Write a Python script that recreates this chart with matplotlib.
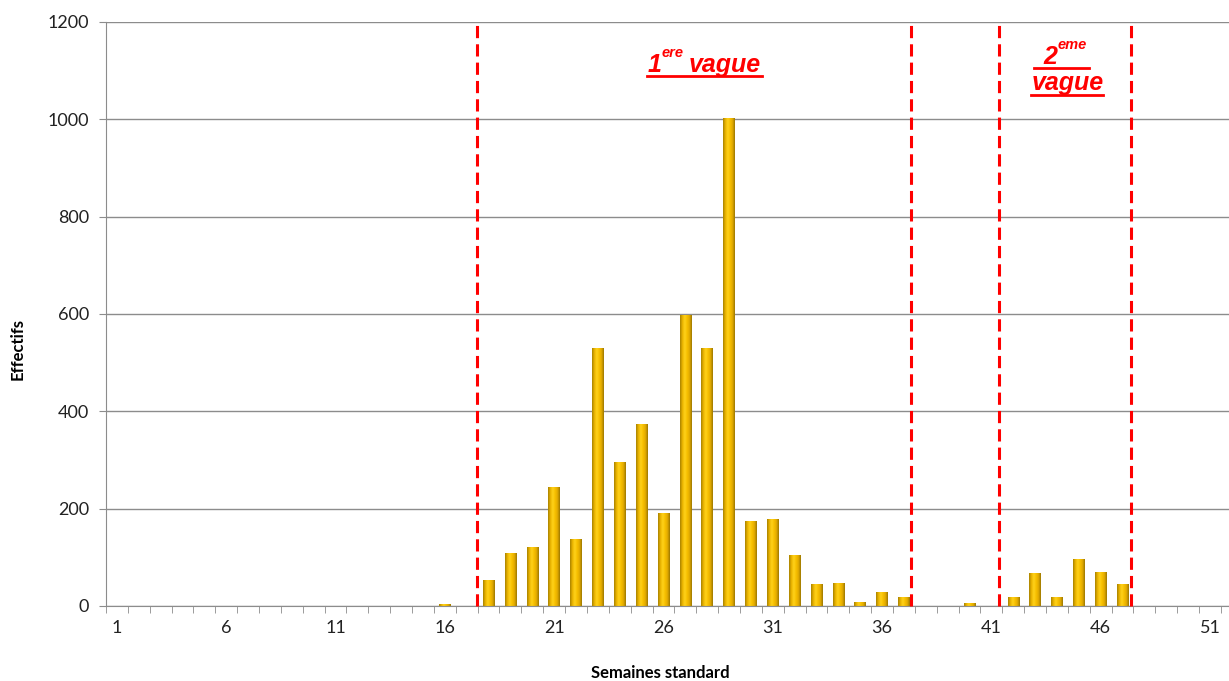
import matplotlib
matplotlib.use("Agg")
import matplotlib.pyplot as plt
import numpy as np
from matplotlib.colors import LinearSegmentedColormap

# ---- data ----
weeks = list(range(1, 53))
values = {16: 5, 18: 54, 19: 108, 20: 122, 21: 245, 22: 137, 23: 531, 24: 295,
          25: 373, 26: 192, 27: 597, 28: 531, 29: 1003, 30: 175, 31: 178,
          32: 105, 33: 45, 34: 48, 35: 9, 36: 29, 37: 18, 40: 7,
          42: 18, 43: 68, 44: 18, 45: 96, 46: 70, 47: 46}
counts = [values.get(w, 0) for w in weeks]
xtick_labels = [1, 6, 11, 16, 21, 26, 31, 36, 41, 46, 51]
yticks = [0, 200, 400, 600, 800, 1000, 1200]
wave_bounds = [17.45, 37.33, 41.35, 47.4]

W, H = 1229, 681
fig = plt.figure(figsize=(W / 100, H / 100), dpi=100)
ax = fig.add_axes([106 / W, 75 / H, (W - 106) / W, 584 / H])

tickfont = "Lato"
gray = "#8c8c8c"

# bars (cylinder-like gradient)
cmap = LinearSegmentedColormap.from_list(
    "gold", ["#a88200", "#eab400", "#ffd21a", "#f7bf00", "#e2aa00", "#9c7800"])
grad = np.linspace(0, 1, 64).reshape(1, -1)
bw = 0.52
bars = ax.bar(weeks, counts, width=bw, color="#f2b900", edgecolor="none", zorder=3)
for b in bars:
    h = b.get_height()
    if h <= 0:
        continue
    x0 = b.get_x()
    im = ax.imshow(grad, cmap=cmap, aspect="auto",
                   extent=(x0, x0 + bw, 0, h), zorder=3.1, interpolation="bilinear")
    im.set_clip_path(b)

# grid and axes
ax.set_yticks(yticks)
ax.yaxis.grid(True, color=gray, linewidth=1, zorder=0)
ax.set_axisbelow(True)
for s in ["top", "right"]:
    ax.spines[s].set_visible(False)
ax.spines["left"].set_color(gray)
ax.spines["bottom"].set_color(gray)
ax.spines["bottom"].set_zorder(4)

ax.set_xticks(xtick_labels)
ax.set_xticklabels([str(v) for v in xtick_labels], fontfamily=tickfont, fontsize=13)
ax.set_xticks(np.arange(0.5, 53, 1), minor=True)
ax.tick_params(axis="x", which="major", length=0, pad=10, colors="#222222")
ax.tick_params(axis="x", which="minor", length=5, color=gray, direction="out")
ax.tick_params(axis="y", length=5, color=gray, pad=7, labelsize=13)
for lab in ax.get_yticklabels():
    lab.set_fontfamily(tickfont)
    lab.set_color("#222222")

ax.set_xlim(0.5, 0.5 + (W - 106) / 21.86)
ax.set_ylim(0, 1200)

ax.set_ylabel("Effectifs", fontfamily=tickfont, fontweight="bold", fontsize=12,
              labelpad=0)
ax.yaxis.set_label_coords(-80 / (W - 106), 0.44)
fig.text(660 / W, 1 - 673 / H, "Semaines standard", fontfamily=tickfont,
         fontweight="bold", fontsize=12, ha="center", va="center")

# wave boundaries
ax.vlines(wave_bounds, 0, 1200, colors="red", linestyles=(0, (4, 2)),
          linewidth=2.2, zorder=5, clip_on=False)

# annotations
red = "#ff0000"
def px(x, y):
    return x / W, 1 - y / H

tf = dict(color=red, fontfamily="Liberation Sans", fontweight="bold",
          fontstyle="italic")
fig.text(*px(648, 72), "1", fontsize=18, ha="left", va="baseline", **tf)
fig.text(*px(662, 57), "ere", fontsize=10.5, ha="left", va="baseline", **tf)
fig.text(*px(689, 72), "vague", fontsize=18, ha="left", va="baseline", **tf)
fig.add_artist(plt.Line2D([647 / W, 762 / W], [1 - 76 / H] * 2, color=red, lw=2,
                          transform=fig.transFigure))

fig.text(*px(1043, 64), "2", fontsize=18, ha="left", va="baseline", **tf)
fig.text(*px(1058, 49), "eme", fontsize=10.5, ha="left", va="baseline", **tf)
fig.add_artist(plt.Line2D([1034 / W, 1089 / W], [1 - 68 / H] * 2, color=red, lw=2,
                          transform=fig.transFigure))
fig.text(*px(1032, 90), "vague", fontsize=18, ha="left", va="baseline", **tf)
fig.add_artist(plt.Line2D([1031 / W, 1103 / W], [1 - 95 / H] * 2, color=red, lw=2,
                          transform=fig.transFigure))

fig.savefig("out.png", dpi=100)
